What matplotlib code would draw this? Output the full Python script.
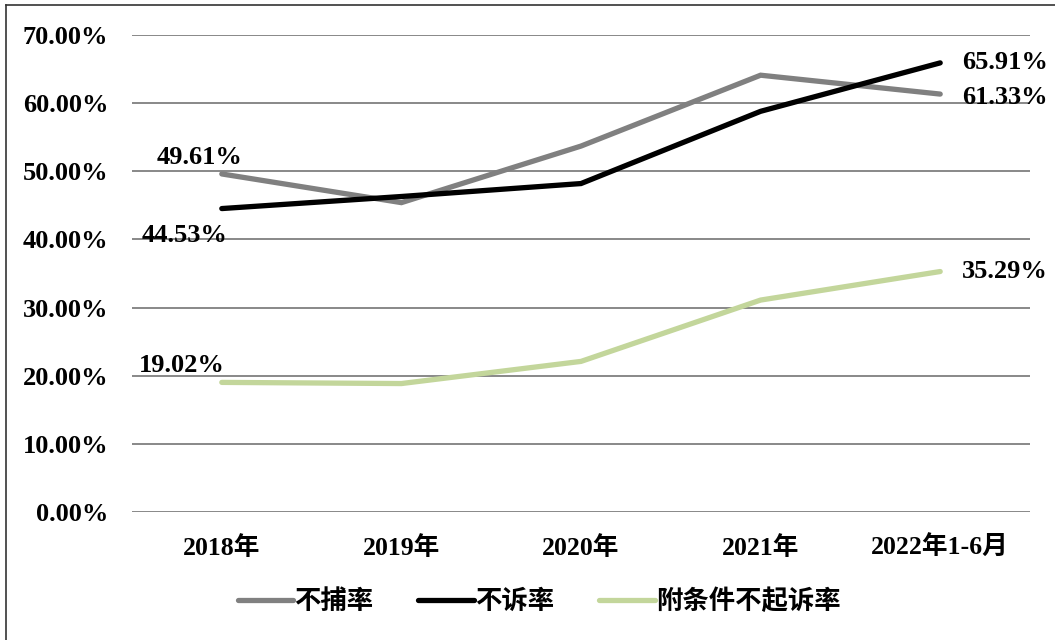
import matplotlib
matplotlib.use('Agg')
import matplotlib.pyplot as plt
from matplotlib.lines import Line2D

plt.rcParams['font.family'] = ['Liberation Serif', 'Noto Sans CJK SC']
plt.rcParams['font.weight'] = 'bold'

years = ['2018年', '2019年', '2020年', '2021年', '2022年1-6月']
buchu = [49.61, 45.4, 53.7, 64.1, 61.33]      # 不捕率
busu = [44.53, 46.3, 48.2, 58.8, 65.91]       # 不诉率
fujian = [19.02, 18.85, 22.1, 31.1, 35.29]    # 附条件不起诉率
yticks = [0, 10, 20, 30, 40, 50, 60, 70]

fig = plt.figure(figsize=(10.55, 6.4), dpi=100)
ax = fig.add_axes([132 / 1055, 0.2, 898 / 1055, 477 / 640])

x = list(range(len(years)))
ax.plot(x, buchu, color='#808080', lw=3.8, solid_capstyle='round', solid_joinstyle='miter', label='不捕率', zorder=3)
ax.plot(x, busu, color='#000000', lw=3.8, solid_capstyle='round', solid_joinstyle='miter', label='不诉率', zorder=4)
ax.plot(x, fujian, color='#c3d69b', lw=3.8, solid_capstyle='round', solid_joinstyle='miter', label='附条件不起诉率', zorder=3)

ax.set_xlim(-0.5, len(years) - 0.5)
ax.set_ylim(0, 70)
ax.set_yticks(yticks)
ax.set_yticklabels(['%.2f%%' % v for v in yticks], fontsize=19, fontweight='bold')
ax.set_xticks(x)
ax.set_xticklabels(years, fontsize=18.5, fontweight='bold')
ax.tick_params(axis='y', length=0, pad=17)
ax.tick_params(axis='x', length=0, pad=17)
ax.grid(axis='y', color='#888888', lw=1.4)
ax.set_axisbelow(True)
for s in ax.spines.values():
    s.set_visible(False)

# data labels
lab_kw = dict(textcoords='offset pixels', fontsize=19, fontweight='bold', va='center')
ax.annotate('%.2f%%' % buchu[0], (0, buchu[0]), xytext=(-22, 16), ha='center', **lab_kw)
ax.annotate('%.2f%%' % busu[0], (0, busu[0]), xytext=(-37, -27), ha='center', **lab_kw)
ax.annotate('%.2f%%' % fujian[0], (0, fujian[0]), xytext=(-40, 17), ha='center', **lab_kw)
ax.annotate('%.2f%%' % busu[4], (4, busu[4]), xytext=(22, 0), ha='left', **lab_kw)
ax.annotate('%.2f%%' % buchu[4], (4, buchu[4]), xytext=(22, -3), ha='left', **lab_kw)
ax.annotate('%.2f%%' % fujian[4], (4, fujian[4]), xytext=(22, 0), ha='left', **lab_kw)

fig.legend(loc='center', bbox_to_anchor=(0.511, 1 - 601 / 640), ncol=3, frameon=False,
           prop={'size': 19, 'weight': 'bold'}, handlelength=2.1, handletextpad=0.05,
           columnspacing=1.7)

# outer border (top and left only visible)
fig.add_artist(Line2D([6 / 1055, 6 / 1055], [0, 1 - 5 / 640], color='#333333', lw=1.2, transform=fig.transFigure))
fig.add_artist(Line2D([6 / 1055, 1], [1 - 5 / 640, 1 - 5 / 640], color='#333333', lw=1.2, transform=fig.transFigure))

fig.savefig('out.png', dpi=100)
